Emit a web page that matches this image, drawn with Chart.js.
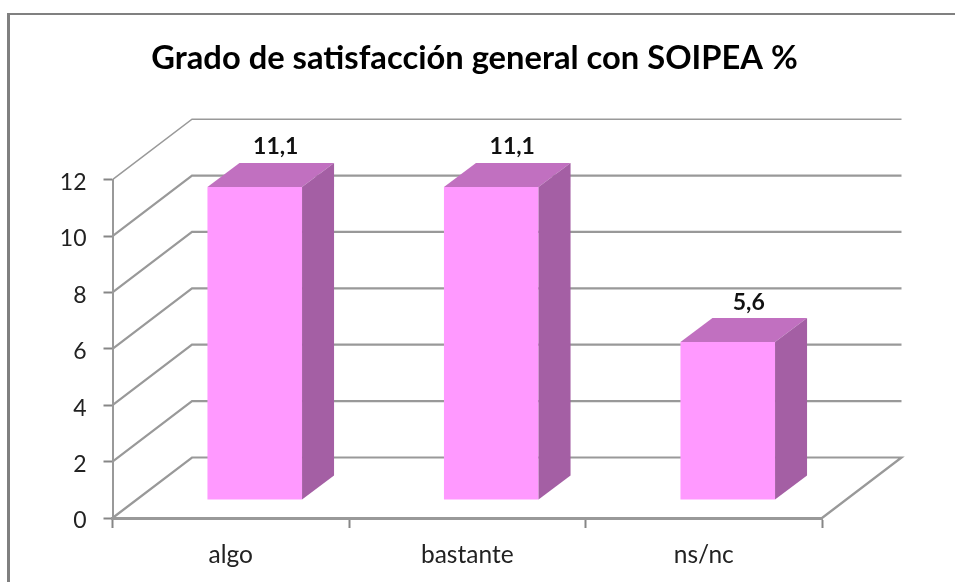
<!DOCTYPE html>
<html>
<head>
<meta charset="utf-8">
<script src="https://cdn.jsdelivr.net/npm/chart.js@4"></script>
<style>
html,body{margin:0;padding:0;background:#fff;width:955px;height:582px;overflow:hidden}
#frame{position:absolute;left:7px;top:13px;width:948px;height:569px;border-left:3px solid #808080;border-top:2px solid #808080;box-sizing:border-box}
canvas{position:absolute;left:0;top:0}
</style>
</head>
<body>
<div id="frame"></div>
<canvas id="c" width="949" height="582"></canvas>
<script>
const titleText = "Grado de satisfacción general con SOIPEA %";
const categories = ["algo", "bastante", "ns/nc"];
const values = [11.1, 11.1, 5.6];
const valueLabels = ["11,1", "11,1", "5,6"];
const yTicks = [0, 2, 4, 6, 8, 10, 12];

const FONT = "Lato, 'Open Sans', sans-serif";
const wall = {dx: 79.5, dy: -60.5};
const barShift = {dx: 24, dy: -18};
const barDepth = {dx: 32, dy: -24};

const threeD = {
  id: "threeD",
  beforeDatasetsDraw(chart) {
    const {ctx, scales: {x, y}, chartArea: a} = chart;
    ctx.save();
    ctx.strokeStyle = "#999999";
    yTicks.forEach(v => {
      const py = y.getPixelForValue(v);
      ctx.lineWidth = v === 12 ? 1.5 : 2.2;
      ctx.beginPath();
      ctx.moveTo(a.left, py);
      ctx.lineTo(a.left + wall.dx, py + wall.dy);
      ctx.lineTo(a.right + wall.dx, py + wall.dy);
      if (v === 0) ctx.lineTo(a.right, py);
      ctx.stroke();
    });
    ctx.restore();
    ctx.save();
    ctx.translate(barShift.dx, barShift.dy);
  },
  afterDatasetsDraw(chart) {
    const {ctx} = chart;
    ctx.restore();
    const meta = chart.getDatasetMeta(0);
    meta.data.forEach((bar, i) => {
      const p = bar.getProps(["x", "y", "base", "width"], true);
      const l = p.x - p.width / 2 + barShift.dx;
      const r = p.x + p.width / 2 + barShift.dx;
      const t = p.y + barShift.dy;
      const b = p.base + barShift.dy;
      ctx.fillStyle = "#C170C0";
      ctx.beginPath();
      ctx.moveTo(l, t);
      ctx.lineTo(l + barDepth.dx, t + barDepth.dy);
      ctx.lineTo(r + barDepth.dx, t + barDepth.dy);
      ctx.lineTo(r, t);
      ctx.closePath();
      ctx.fill();
      ctx.fillStyle = "#A45FA4";
      ctx.beginPath();
      ctx.moveTo(r, t);
      ctx.lineTo(r + barDepth.dx, t + barDepth.dy);
      ctx.lineTo(r + barDepth.dx, b + barDepth.dy);
      ctx.lineTo(r, b);
      ctx.closePath();
      ctx.fill();
      ctx.fillStyle = "#111111";
      ctx.font = "bold 23px " + FONT;
      ctx.textAlign = "center";
      ctx.textBaseline = "middle";
      ctx.fillText(valueLabels[i], (l + r) / 2 + 21, t - 40);
    });
  }
};

new Chart(document.getElementById("c"), {
  type: "bar",
  data: {
    labels: categories,
    datasets: [{
      data: values,
      backgroundColor: "#FF99FF",
      borderWidth: 0,
      categoryPercentage: 0.4,
      barPercentage: 1,
      clip: false
    }]
  },
  options: {
    responsive: false,
    animation: false,
    layout: {padding: 0},
    plugins: {
      legend: {display: false},
      tooltip: {enabled: false},
      title: {
        display: true,
        text: titleText,
        color: "#000000",
        font: {family: FONT, size: 32.7, weight: "bold", lineHeight: 1.2},
        padding: {top: 39, bottom: 101.4}
      }
    },
    scales: {
      x: {
        grid: {drawOnChartArea: false, offset: true, tickLength: 10, tickWidth: 2, tickColor: "#868686"},
        border: {display: true, color: "#999999", width: 3},
        ticks: {color: "#222222", font: {family: FONT, size: 24.5}, padding: 12, maxRotation: 0},
        afterFit(s) { s.height = 64; }
      },
      y: {
        min: 0,
        max: 12,
        grid: {drawOnChartArea: false, tickLength: 9, tickWidth: 2, tickColor: "#868686"},
        border: {display: true, color: "#999999", width: 2},
        ticks: {
          stepSize: 2,
          color: "#222222",
          font: {family: FONT, size: 23},
          padding: 17,
          labelOffset: 3
        },
        afterFit(s) { s.width = 112.5; }
      },
      rightGutter: {
        position: "right",
        display: true,
        grid: {display: false},
        border: {display: false},
        ticks: {display: false},
        afterFit(s) { s.width = 127; }
      }
    }
  },
  plugins: [threeD]
});
</script>
</body>
</html>
